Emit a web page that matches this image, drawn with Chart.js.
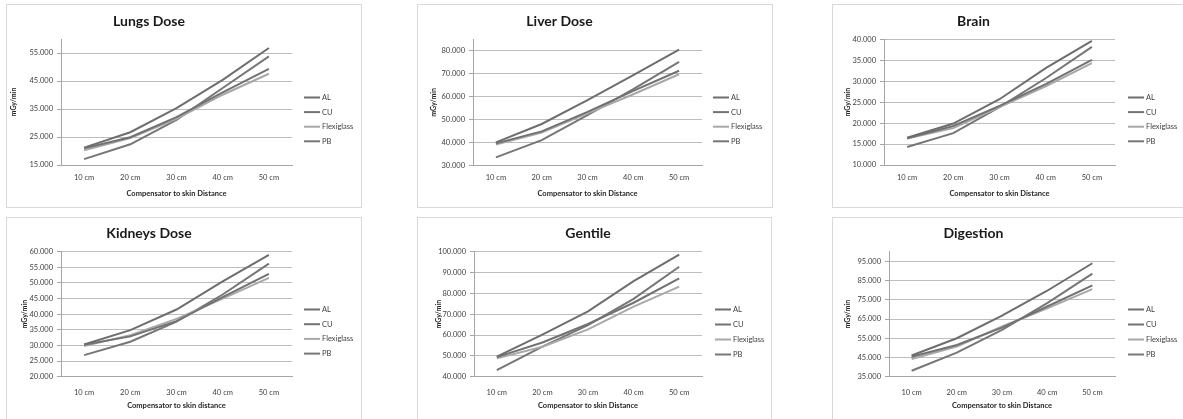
<!DOCTYPE html>
<html>
<head>
<meta charset="utf-8">
<script src="https://cdn.jsdelivr.net/npm/chart.js@4.4.1/dist/chart.umd.min.js"></script>
<style>
  html, body { margin: 0; padding: 0; background: #ffffff; }
  body { position: relative; width: 1183px; height: 419px; overflow: hidden; }
  .frame { position: absolute; box-sizing: border-box; border: 1px solid #d9d9d9; background: #fff; }
  canvas { position: absolute; }
</style>
</head>
<body>
<div id="stage"></div>
<script>
// Shared category axis
const distances = ['10 cm', '20 cm', '30 cm', '40 cm', '50 cm'];
const materials = ['AL', 'CU', 'Flexiglass', 'PB'];

// Lungs dose (mGy/min)
const lungsAL = [21.2, 26.7, 35.3, 45.4, 56.8];
const lungsCU = [21.0, 24.9, 32.1, 40.9, 49.3];
const lungsFlexi = [20.3, 24.6, 31.5, 40.1, 47.6];
const lungsPB = [17.1, 22.4, 31.1, 42.5, 53.8];
const lungsTicks = [15, 25, 35, 45, 55];

// Liver dose
const liverAL = [40.1, 48.1, 58.5, 69.3, 80.4];
const liverCU = [39.7, 44.9, 53.4, 62.5, 71.2];
const liverFlexi = [39.2, 44.4, 52.7, 61.0, 69.7];
const liverPB = [33.6, 41.1, 52.0, 63.2, 75.1];
const liverTicks = [30, 40, 50, 60, 70, 80];

// Brain
const brainAL = [16.5, 19.9, 25.7, 33.1, 39.6];
const brainCU = [16.4, 19.3, 24.1, 29.3, 35.1];
const brainFlexi = [16.3, 18.8, 23.8, 28.8, 34.3];
const brainPB = [14.3, 17.6, 23.8, 30.7, 38.2];
const brainTicks = [10, 15, 20, 25, 30, 35, 40];

// Kidneys dose
const kidneysAL = [30.3, 34.9, 41.5, 50.5, 59.0];
const kidneysCU = [30.2, 32.9, 37.8, 45.5, 52.9];
const kidneysFlexi = [29.8, 33.3, 38.5, 45.0, 51.6];
const kidneysPB = [26.9, 31.2, 37.6, 46.3, 56.2];
const kidneysTicks = [20, 25, 30, 35, 40, 45, 50, 55, 60];

// Gentile
const gentileAL = [49.6, 60.2, 71.4, 85.9, 98.6];
const gentileCU = [49.4, 56.4, 65.3, 75.5, 87.2];
const gentileFlexi = [48.8, 54.4, 62.7, 73.6, 83.2];
const gentilePB = [43.2, 54.4, 64.8, 77.4, 92.8];
const gentileTicks = [40, 50, 60, 70, 80, 90, 100];

// Digestion
const digestionAL = [46.0, 55.0, 66.7, 79.7, 94.0];
const digestionCU = [45.4, 51.5, 60.5, 71.5, 82.5];
const digestionFlexi = [44.2, 50.7, 61.1, 70.5, 80.5];
const digestionPB = [38.1, 47.5, 59.3, 73.3, 88.6];
const digestionTicks = [35, 45, 55, 65, 75, 85, 95];

const lineColors = ['#6e6e6e', '#727272', '#a8a8a8', '#767676'];
const FONT = "Lato, 'Open Sans', 'Liberation Sans', sans-serif";
Chart.defaults.font.family = FONT;

// Legend drawn as short line samples beside the plot, like the spreadsheet style
const sideLegend = {
  id: 'sideLegend',
  afterDraw(chart, args, opts) {
    const ctx = chart.ctx;
    ctx.save();
    chart.data.datasets.forEach((ds, i) => {
      const y = opts.y + i * opts.step;
      ctx.strokeStyle = ds.borderColor;
      ctx.lineWidth = 2;
      ctx.beginPath();
      ctx.moveTo(opts.x, y);
      ctx.lineTo(opts.x + opts.len, y);
      ctx.stroke();
      ctx.fillStyle = '#404040';
      ctx.font = '7.5px ' + FONT;
      ctx.textBaseline = 'middle';
      ctx.textAlign = 'left';
      ctx.fillText(ds.label, opts.x + opts.len + 2, y);
    });
    ctx.restore();
  }
};

function buildPanel(cfg) {
  const { frame, plot } = cfg;
  const stage = document.getElementById('stage');
  const box = document.createElement('div');
  box.className = 'frame';
  Object.assign(box.style, { left: frame.x + 'px', top: frame.y + 'px', width: frame.w + 'px', height: frame.h + 'px' });
  stage.appendChild(box);
  const canvas = document.createElement('canvas');
  canvas.width = frame.w; canvas.height = frame.h;
  Object.assign(canvas.style, { left: frame.x + 'px', top: frame.y + 'px' });
  stage.appendChild(canvas);

  const W = frame.w, H = frame.h;
  const pL = plot.l - frame.x, pR = plot.r - frame.x, pT = plot.t - frame.y, pB = plot.b - frame.y;
  const titleLH = 14 * 1.2;
  const titleTop = (cfg.titleY - frame.y) - titleLH / 2;
  const axisLH = 7.5 * 1.2;

  new Chart(canvas, {
    type: 'line',
    data: {
      labels: distances,
      datasets: materials.map((m, i) => ({
        label: m,
        data: cfg.series[i],
        borderColor: lineColors[i],
        backgroundColor: lineColors[i],
        borderWidth: 2,
        pointRadius: 0,
        tension: 0,
        fill: false
      }))
    },
    options: {
      responsive: false,
      animation: false,
      events: [],
      layout: { padding: { left: 0, top: 0, right: W - pR, bottom: 0 } },
      plugins: {
        legend: { display: false },
        tooltip: { enabled: false },
        title: {
          display: true,
          text: cfg.title,
          fullSize: !cfg.titleOverPlot,
          color: '#1a1a1a',
          font: { size: 14, weight: 'bold', lineHeight: 1.2 },
          padding: { top: titleTop, bottom: pT - titleTop - titleLH }
        },
        sideLegend: {
          x: cfg.legend.x - frame.x,
          y: cfg.legend.y - frame.y,
          step: cfg.legend.step,
          len: 16
        }
      },
      scales: {
        x: {
          offset: true,
          grid: { display: false, drawTicks: false },
          border: { display: true, color: '#a6a6a6', width: 1 },
          ticks: {
            color: '#404040',
            font: { size: 7.5 },
            maxRotation: 0,
            autoSkip: false,
            padding: (cfg.xTickY - plot.b) - axisLH / 2
          },
          title: {
            display: true,
            text: cfg.xTitle,
            color: '#262626',
            font: { size: 7.5, weight: 'bold', lineHeight: 1.2 },
            padding: { top: 0, bottom: H - (cfg.xTitleY - frame.y) - axisLH / 2 }
          },
          afterFit(s) { s.height = H - pB; }
        },
        y: {
          min: cfg.yMin,
          max: cfg.yMax,
          grid: { color: '#bdbdbd', lineWidth: 1, drawTicks: true, tickLength: 4, tickColor: '#a6a6a6' },
          border: { display: true, color: '#a6a6a6', width: 1 },
          ticks: {
            color: '#404040',
            font: { size: 7.5 },
            padding: 4,
            callback: v => Number(v).toFixed(3)
          },
          afterBuildTicks(s) { s.ticks = cfg.ticks.map(v => ({ value: v })); },
          title: {
            display: true,
            text: 'mGy/min',
            color: '#262626',
            font: { size: 7, weight: 'bold', lineHeight: 1.2 },
            padding: { top: (cfg.yTitleX - frame.x) - 7 * 1.2 / 2, bottom: 0 }
          },
          afterFit(s) { s.width = pL; }
        }
      }
    },
    plugins: [sideLegend]
  });
}

buildPanel({
  title: 'Lungs Dose', xTitle: 'Compensator to skin Distance',
  frame: { x: 6, y: 4, w: 356, h: 204 }, plot: { l: 61, t: 39, r: 292, b: 165 },
  titleY: 21, yTitleX: 14, xTickY: 178, xTitleY: 194,
  legend: { x: 304, y: 97.5, step: 14.6 },
  yMin: 15, yMax: 60, ticks: lungsTicks,
  series: [lungsAL, lungsCU, lungsFlexi, lungsPB]
});
buildPanel({
  title: 'Liver Dose', xTitle: 'Compensator to skin Distance',
  frame: { x: 417, y: 4, w: 356, h: 204 }, plot: { l: 473, t: 39, r: 702, b: 165.7 },
  titleY: 21, yTitleX: 434, xTickY: 178, xTitleY: 194,
  legend: { x: 713, y: 97.5, step: 14.6 },
  yMin: 30, yMax: 85, ticks: liverTicks,
  series: [liverAL, liverCU, liverFlexi, liverPB]
});
buildPanel({
  title: 'Brain', xTitle: 'Compensator to skin Distance',
  frame: { x: 832, y: 4, w: 352, h: 204 }, plot: { l: 884, t: 39.3, r: 1115, b: 165 },
  titleY: 21, yTitleX: 848, xTickY: 178, xTitleY: 194,
  legend: { x: 1128, y: 97.5, step: 14.6 },
  yMin: 10, yMax: 40, ticks: brainTicks,
  series: [brainAL, brainCU, brainFlexi, brainPB]
});
buildPanel({
  title: 'Kidneys Dose', xTitle: 'Compensator to skin distance',
  frame: { x: 6, y: 217, w: 356, h: 206 }, plot: { l: 61, t: 251.7, r: 292, b: 376.7 },
  titleY: 233.3, yTitleX: 25, xTickY: 392.7, xTitleY: 406,
  legend: { x: 304, y: 309.5, step: 14.7 },
  yMin: 20, yMax: 60, ticks: kidneysTicks,
  series: [kidneysAL, kidneysCU, kidneysFlexi, kidneysPB]
});
buildPanel({
  title: 'Gentile', xTitle: 'Compensator to skin Distance', titleOverPlot: true,
  frame: { x: 417, y: 217, w: 355, h: 206 }, plot: { l: 474, t: 251.7, r: 702, b: 376.7 },
  titleY: 233, yTitleX: 439, xTickY: 392.7, xTitleY: 406,
  legend: { x: 715, y: 309.5, step: 15 },
  yMin: 40, yMax: 100, ticks: gentileTicks,
  series: [gentileAL, gentileCU, gentileFlexi, gentilePB]
});
buildPanel({
  title: 'Digestion', xTitle: 'Compensator to skin Distance',
  frame: { x: 832, y: 217, w: 352, h: 206 }, plot: { l: 889, t: 251.7, r: 1115, b: 376.7 },
  titleY: 233, yTitleX: 848, xTickY: 392.7, xTitleY: 406,
  legend: { x: 1128, y: 309.5, step: 15 },
  yMin: 35, yMax: 100, ticks: digestionTicks,
  series: [digestionAL, digestionCU, digestionFlexi, digestionPB]
});
</script>
</body>
</html>
